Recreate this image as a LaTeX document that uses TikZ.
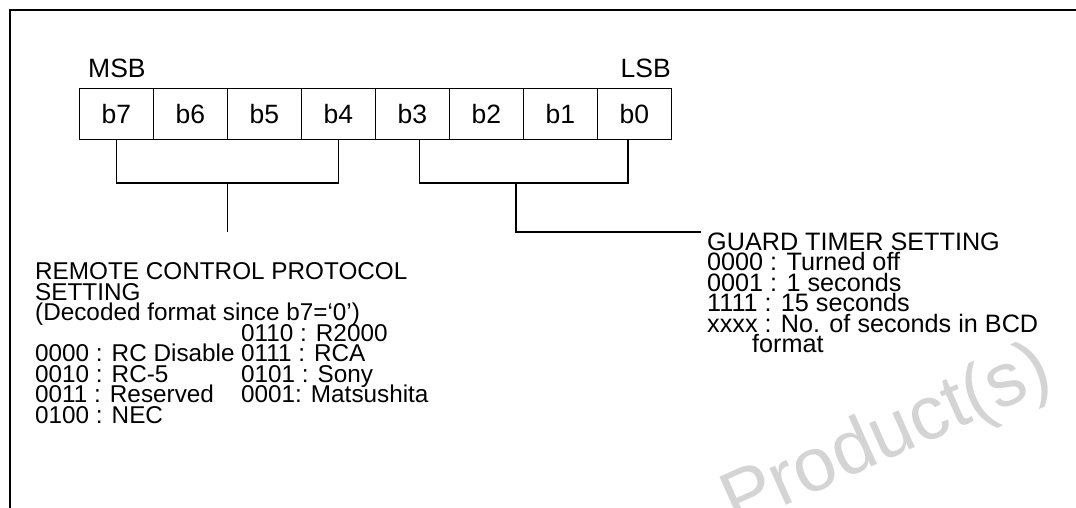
\documentclass[tikz,border=0pt]{standalone}
\usepackage{fontspec}
\setmainfont{Liberation Sans}
\begin{document}
\begin{tikzpicture}[x=1pt,y=-1pt,
  frameline/.style={line width=1.6pt},
  cell/.style={draw, line width=0.8pt, minimum width=74pt, minimum height=51pt, inner sep=0pt, font=\fontsize{26.5}{26}\selectfont},
  brk/.style={line width=1.6pt},
  lbl/.style={anchor=base west, inner sep=0pt, font=\fontsize{24.3}{21}\selectfont},
  glbl/.style={anchor=base west, inner sep=0pt, font=\fontsize{25.2}{21}\selectfont},
  hdr/.style={inner sep=0pt, font=\fontsize{26.5}{26}\selectfont},
  wm/.style={inner sep=0pt, text=black!17, font=\fontsize{76}{76}\selectfont}
]
\useasboundingbox (0,0) rectangle (1076,508);
\clip (0,0) rectangle (1076,508);
\fill[white] (0,0) rectangle (1076,508);
% watermark
\node[wm, anchor=base west, rotate=24] (wmark) at (735,528) {Product(s)};
% frame
\coordinate (fbl) at (10,508);
\coordinate (ftl) at (10,10);
\coordinate (ftr) at (1076,10);
\draw[frameline] (fbl) -- (ftl) -- (ftr);
% headers
\node[hdr, anchor=base west] (msb) at (88,78) {MSB};
\node[hdr, anchor=base east] (lsb) at (671,78) {LSB};
% bit cells
\foreach \i/\n in {0/7,1/6,2/5,3/4,4/3,5/2,6/1,7/0} {
  \node[cell] (b\n) at ({79.3+37+74*\i},114.3) {b\n};
}
% left bracket
\coordinate (lj) at (227.3,183);
\coordinate (lend) at (227.3,232);
\draw[brk] (b7.south) |- (lj) -| (b4.south);
\draw[brk] (lj) -- (lend);
% right bracket
\coordinate (rj) at (515.7,183);
\coordinate (rturn) at (515.7,232);
\coordinate (rend) at (701,232);
\draw[brk] ([xshift=7pt]b3.south) |- (rj) -| ([xshift=-6.3pt]b0.south);
\draw[brk] (rj) -- (rturn) -- (rend);
% left text
\node[lbl] (r1) at (35,279.5) {REMOTE CONTROL PROTOCOL};
\node[lbl] (r2) at (35,300) {SETTING};
\node[lbl] (r3) at (35,320.5) {(Decoded format since b7=‘0’)};
\node[lbl] (r4) at (241,341) {0110 : R2000};
\node[lbl] (r5) at (35,361.5) {0000 : RC Disable};
\node[lbl] (r5b) at (241,361.5) {0111 : RCA};
\node[lbl] (r6) at (35,382) {0010 : RC-5};
\node[lbl] (r6b) at (241,382) {0101 : Sony};
\node[lbl] (r7) at (35,402.5) {0011 : Reserved};
\node[lbl] (r7b) at (241,402.5) {0001: Matsushita};
\node[lbl] (r8) at (35,423) {0100 : NEC};
% right text
\node[glbl] (g1) at (707,250) {GUARD TIMER SETTING};
\node[glbl] (g2) at (707,270.5) {0000 : Turned off};
\node[glbl] (g3) at (707,291) {0001 : 1 seconds};
\node[glbl] (g4) at (707,311.5) {1111 : 15 seconds};
\node[glbl] (g5) at (707,332) {xxxx : No. of seconds in BCD};
\node[glbl] (g6) at (752,352.5) {format};
\end{tikzpicture}
\end{document}
